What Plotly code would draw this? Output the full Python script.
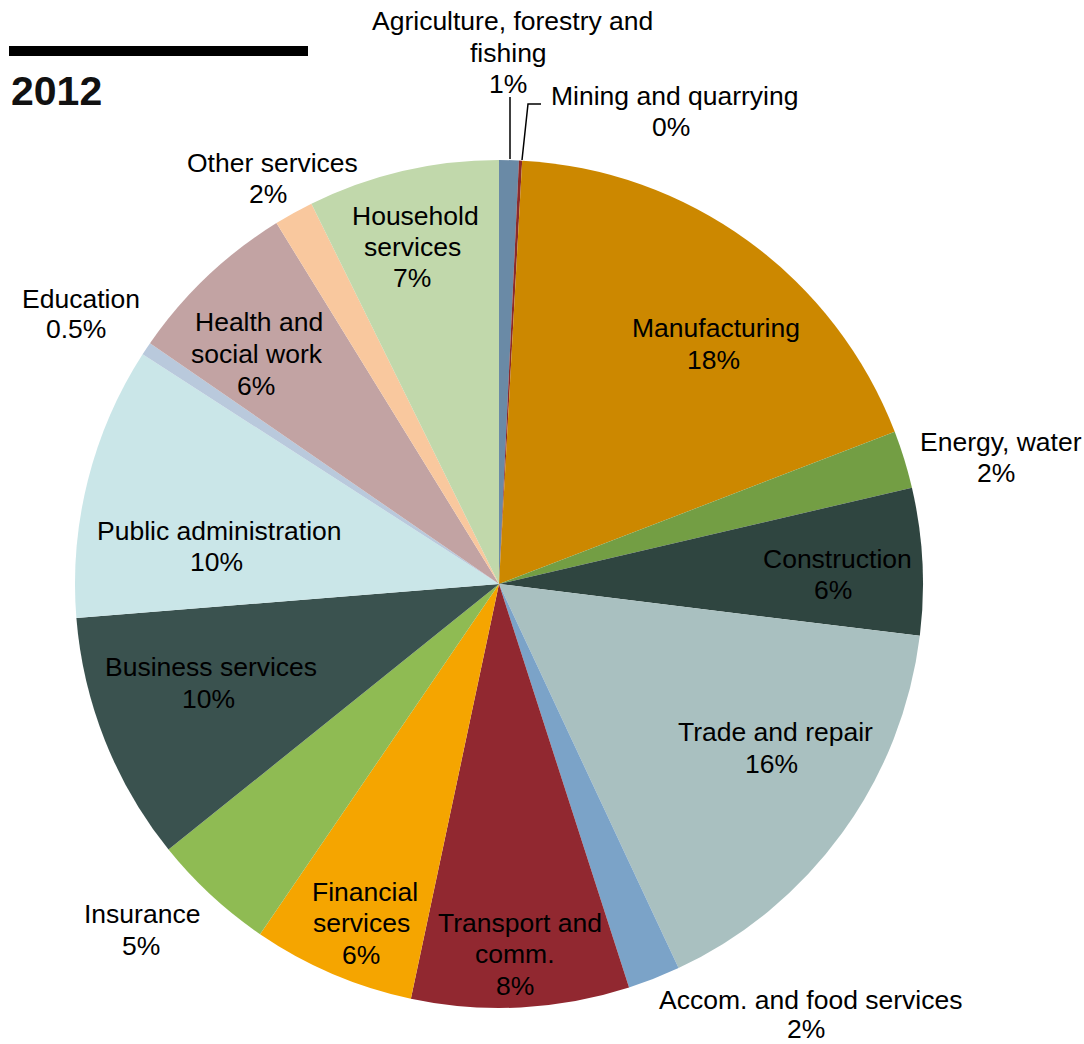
import plotly.graph_objects as go

W, H = 1084, 1044

sectors = [
    "Agriculture, forestry and<br>fishing", "Mining and quarrying", "Manufacturing",
    "Energy, water", "Construction", "Trade and repair", "Accom. and food services",
    "Transport and<br>comm.", "Financial<br>services", "Insurance", "Business services",
    "Public administration", "Education", "Health and<br>social work", "Other services",
    "Household<br>services",
]
shares = [0.75, 0.12, 18.3, 2.2, 5.6, 16.1, 2.0, 8.3, 6.2, 4.7, 9.5, 10.4, 0.5, 6.6, 1.5, 7.3]
shown_pct = ["1%", "0%", "18%", "2%", "6%", "16%", "2%", "8%", "6%", "5%", "10%",
             "10%", "0.5%", "6%", "2%", "7%"]
colors = ["#6a8aa6", "#8b2a2a", "#cc8800", "#739e44", "#2f4540", "#a9c0c0", "#7ba3c8",
          "#912830", "#f5a500", "#8fbb53", "#3a524f", "#cae6e8", "#b9c9dc", "#c2a3a3",
          "#f9c89e", "#c1d8ab"]

# per-line label centre positions in pixels (layout only)
label_lines_pos = [
    [(512, 21), (508, 53), (508, 84)],
    [(674, 96), (671, 127)],
    [(716, 328), (713, 360)],
    [(1001, 442), (996, 473)],
    [(837, 559), (833, 590)],
    [(775, 732), (771, 764)],
    [(810, 1000), (806, 1029)],
    [(520, 923), (515, 954), (515, 986)],
    [(365, 892), (362, 923), (361, 955)],
    [(142, 914), (141, 946)],
    [(211, 667), (208, 699)],
    [(219, 531), (216, 562)],
    [(81, 299), (76, 329)],
    [(259, 322), (257, 354), (256, 386)],
    [(272, 163), (268, 194)],
    [(415, 216), (412, 247), (412, 278)],
]

cx, cy, r = 499, 584, 424

fig = go.Figure(go.Pie(
    values=shares,
    labels=[s.replace("<br>", " ") for s in sectors],
    marker=dict(colors=colors, line=dict(width=0)),
    sort=False,
    direction="clockwise",
    rotation=0,
    textinfo="none",
    hoverinfo="label+percent",
    showlegend=False,
    domain=dict(x=[(cx - r) / W, (cx + r) / W], y=[1 - (cy + r) / H, 1 - (cy - r) / H]),
))

font = dict(family="Liberation Sans, Arial, sans-serif", size=26.5, color="#000000")
annotations = []
for name, pct, positions in zip(sectors, shown_pct, label_lines_pos):
    lines = name.split("<br>") + [pct]
    for line, (px, py) in zip(lines, positions):
        annotations.append(dict(
            x=px / W, y=1 - py / H, xref="paper", yref="paper",
            text=line, showarrow=False, font=font,
            xanchor="center", yanchor="middle", align="center",
        ))

annotations.append(dict(
    x=9 / W, y=1 - 91 / H, xref="paper", yref="paper", text="<b>2012</b>",
    showarrow=False, xanchor="left", yanchor="middle",
    font=dict(family="Liberation Sans, Arial, sans-serif", size=41, color="#111111"),
))

shapes = [
    dict(type="rect", xref="paper", yref="paper", x0=9 / W, x1=308 / W,
         y0=1 - 56 / H, y1=1 - 46 / H, fillcolor="#000000", line=dict(width=0)),
    dict(type="line", xref="paper", yref="paper", x0=510 / W, x1=510 / W,
         y0=1 - 97 / H, y1=1 - 159 / H, line=dict(color="#000000", width=1.5)),
    dict(type="path", xref="paper", yref="paper",
         path=f"M {522 / W},{1 - 160 / H} L {528 / W},{1 - 104 / H} L {541 / W},{1 - 104 / H}",
         line=dict(color="#000000", width=1.5)),
]

fig.update_layout(
    width=W, height=H,
    margin=dict(l=0, r=0, t=0, b=0),
    paper_bgcolor="#ffffff", plot_bgcolor="#ffffff",
    annotations=annotations, shapes=shapes,
)

fig.write_html("out.html")
